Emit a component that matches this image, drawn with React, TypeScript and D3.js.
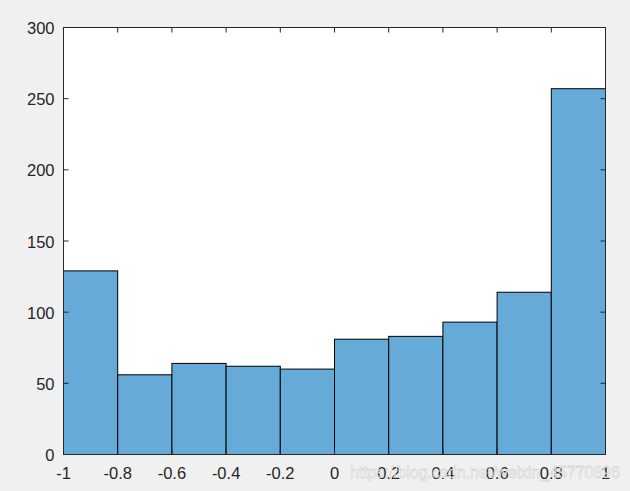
import React from "react";
import * as d3 from "d3";

const binEdges = [-1, -0.8, -0.6, -0.4, -0.2, 0, 0.2, 0.4, 0.6, 0.8, 1];
const counts = [129, 56, 64, 62, 60, 81, 83, 93, 114, 257];
const xTicks = [-1, -0.8, -0.6, -0.4, -0.2, 0, 0.2, 0.4, 0.6, 0.8, 1];
const yTicks = [0, 50, 100, 150, 200, 250, 300];
const watermark = "https://blog.csdn.net/weixin_45770896";

const W = 630;
const H = 491;
const left = 63.5;
const right = 605.5;
const top = 27.5;
const bottom = 454.5;
const axisColor = "#262626";
const font = "Arial, 'Liberation Sans', Helvetica, sans-serif";

export default function App() {
  const x = d3.scaleLinear().domain([-1, 1]).range([left, right]);
  const y = d3.scaleLinear().domain([0, 300]).range([bottom, top]);
  const fmt = (v: number) => (v === 0 ? "0" : String(v));
  const tl = 5;
  return (
    <svg width={W} height={H} style={{ position: "absolute", left: 0, top: 0 }}>
      <rect x={0} y={0} width={W} height={H} fill="#f0f0f0" />
      <rect x={left} y={top} width={right - left} height={bottom - top} fill="#ffffff" />
      {counts.map((c, i) => (
        <rect
          key={i}
          x={x(binEdges[i])}
          y={y(c)}
          width={x(binEdges[i + 1]) - x(binEdges[i])}
          height={y(0) - y(c)}
          fill="rgb(102,170,215)"
          stroke="#000"
          strokeWidth={1}
        />
      ))}
      <rect x={left} y={top} width={right - left} height={bottom - top} fill="none" stroke={axisColor} strokeWidth={1} />
      {xTicks.map((t, i) => (
        <g key={"x" + i}>
          <line x1={x(t)} x2={x(t)} y1={bottom} y2={bottom - tl} stroke={axisColor} />
          <line x1={x(t)} x2={x(t)} y1={top} y2={top + tl} stroke={axisColor} />
          <text x={x(t)} y={479} textAnchor="middle" fontFamily={font} fontSize={16.5} fill={axisColor}>
            {fmt(t)}
          </text>
        </g>
      ))}
      {yTicks.map((t, i) => (
        <g key={"y" + i}>
          <line x1={left} x2={left + tl} y1={y(t)} y2={y(t)} stroke={axisColor} />
          <line x1={right} x2={right - tl} y1={y(t)} y2={y(t)} stroke={axisColor} />
          <text x={54.5} y={y(t) + 6.5} textAnchor="end" fontFamily={font} fontSize={16.5} fill={axisColor}>
            {t}
          </text>
        </g>
      ))}
      <text
        x={350}
        y={478}
        fontFamily={font}
        fontSize={16}
        fill="#ffffff"
        fillOpacity={0.85}
        stroke="#9a9a9a"
        strokeOpacity={0.35}
        strokeWidth={0.8}
        textLength={270}
      >
        {watermark}
      </text>
    </svg>
  );
}
